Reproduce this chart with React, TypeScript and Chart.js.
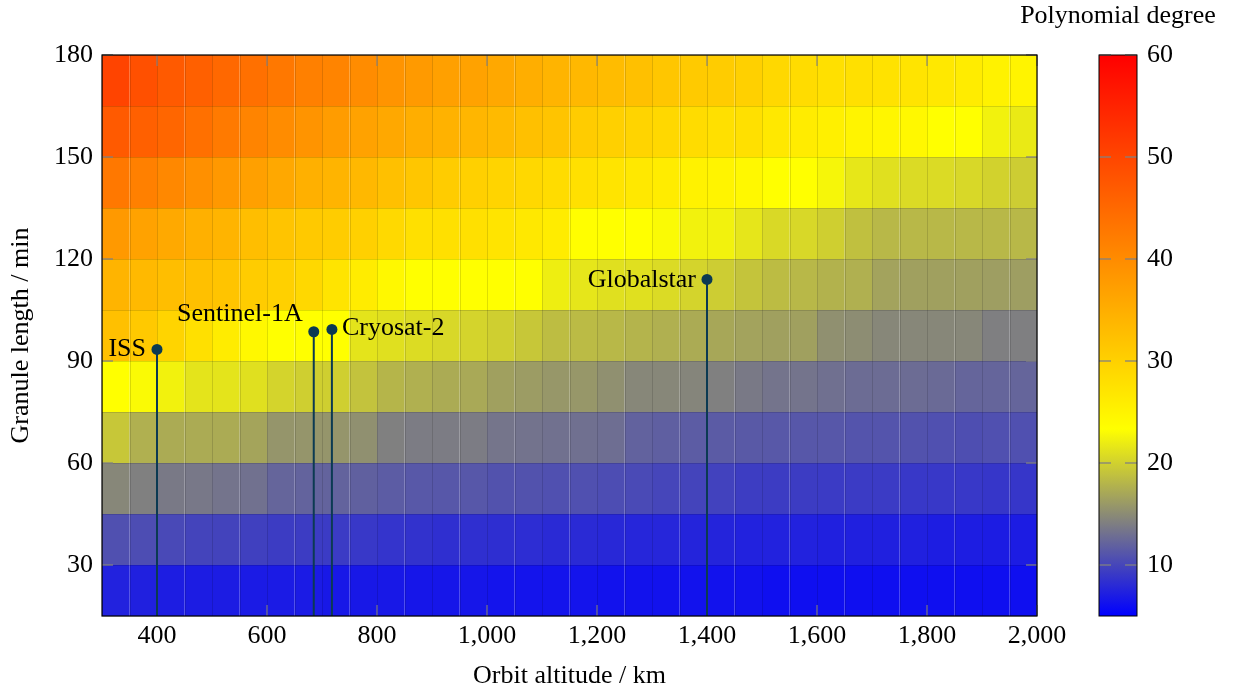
import React, { useEffect, useRef } from "react";
import { Chart, registerables } from "chart.js";

Chart.register(...registerables);

// ---- data ----
const altitudeEdges = [300, 350, 400, 450, 500, 550, 600, 650, 700, 750, 800, 850, 900, 950, 1000, 1050, 1100, 1150, 1200, 1250, 1300, 1350, 1400, 1450, 1500, 1550, 1600, 1650, 1700, 1750, 1800, 1850, 1900, 1950, 2000];
const granuleEdges = [15, 30, 45, 60, 75, 90, 105, 120, 135, 150, 165, 180];

const deg15 = [7.4, 7.3, 7.1, 7.0, 7.0, 6.9, 6.9, 6.9, 6.7, 6.7, 6.7, 6.6, 6.6, 6.6, 6.4, 6.4, 6.4, 6.4, 6.3, 6.3, 6.3, 6.3, 6.3, 6.3, 6.1, 6.1, 6.1, 6.1, 6.1, 6.1, 6.1, 6.1, 6.1, 6.1];
const deg30 = [10.7, 10.5, 10.2, 9.9, 9.8, 9.6, 9.3, 9.3, 9.2, 9.0, 8.7, 8.6, 8.4, 8.4, 8.3, 8.2, 8.0, 8.0, 7.9, 7.7, 7.7, 7.6, 7.6, 7.4, 7.4, 7.4, 7.3, 7.3, 7.3, 7.3, 7.1, 7.1, 7.0, 7.0];
const deg45 = [14.7, 14.2, 13.7, 13.6, 13.3, 13.1, 12.2, 12.1, 12.1, 11.9, 11.6, 11.3, 11.2, 11.2, 10.9, 10.9, 10.7, 10.7, 10.5, 10.3, 10.0, 9.9, 9.7, 9.4, 9.3, 9.3, 9.2, 9.2, 9.2, 9.0, 9.0, 9.0, 8.9, 8.9];
const deg60 = [19.3, 17.6, 17.3, 17.3, 17.3, 16.8, 15.7, 15.7, 15.7, 15.3, 14.2, 13.9, 13.9, 13.9, 13.4, 13.2, 13.1, 13.0, 12.9, 12.0, 11.8, 11.6, 11.5, 11.4, 11.3, 11.2, 11.2, 11.0, 11.0, 10.9, 10.7, 10.6, 10.7, 10.7];
const deg75 = [23.3, 23.0, 22.4, 21.4, 21.4, 21.1, 20.2, 19.9, 19.9, 19.0, 18.0, 17.6, 17.3, 17.1, 16.5, 16.2, 15.8, 15.8, 15.3, 14.7, 14.7, 14.5, 14.2, 13.7, 13.3, 13.3, 13.0, 12.7, 12.7, 12.7, 12.6, 12.2, 12.2, 12.2];
const deg90 = [32.4, 31.2, 29.5, 27.8, 26.1, 24.3, 23.3, 23.3, 23.3, 21.4, 21.1, 20.8, 20.5, 20.2, 19.9, 19.3, 18.6, 18.4, 18.2, 17.9, 17.6, 17.3, 17.0, 16.7, 16.5, 16.5, 15.3, 15.1, 14.7, 14.7, 14.7, 14.7, 14.1, 14.1];
const deg105 = [34.2, 33.5, 32.7, 32.4, 31.8, 30.7, 30.1, 29.0, 27.2, 26.1, 24.3, 23.3, 23.3, 23.3, 23.3, 23.3, 22.1, 21.5, 21.1, 21.1, 20.7, 20.2, 19.7, 19.1, 18.5, 18.2, 17.8, 17.6, 16.7, 16.5, 16.5, 16.5, 16.3, 16.3];
const deg120 = [38.0, 36.8, 35.8, 34.7, 34.1, 32.7, 31.8, 31.2, 30.7, 30.1, 28.8, 27.8, 27.8, 27.8, 27.2, 26.6, 26.1, 23.5, 23.3, 23.3, 23.0, 22.4, 22.4, 21.5, 20.6, 20.5, 19.9, 18.8, 18.2, 18.2, 18.2, 18.2, 18.2, 18.2];
const deg135 = [42.8, 41.7, 40.5, 39.4, 38.2, 37.0, 35.9, 34.7, 34.2, 33.6, 32.4, 31.5, 30.7, 30.1, 29.5, 29.0, 28.4, 27.8, 27.2, 26.6, 26.1, 25.2, 24.9, 24.3, 23.3, 23.3, 22.7, 21.6, 21.1, 20.7, 20.7, 20.5, 20.1, 19.7];
const deg150 = [47.1, 46.3, 45.4, 44.0, 42.5, 41.1, 39.9, 38.8, 37.6, 36.8, 35.9, 35.0, 34.4, 33.9, 33.3, 32.4, 31.8, 30.7, 30.1, 29.5, 29.0, 28.4, 27.8, 27.8, 26.6, 26.1, 25.5, 24.9, 24.6, 24.3, 23.3, 23.3, 22.4, 21.8];
const deg165 = [50.3, 48.5, 47.1, 46.3, 45.1, 44.0, 42.8, 41.7, 41.1, 39.9, 38.8, 37.9, 37.0, 36.8, 35.9, 35.0, 34.2, 33.6, 33.0, 32.4, 31.6, 31.0, 30.7, 30.1, 29.0, 28.4, 27.8, 27.8, 27.5, 27.2, 26.6, 26.1, 25.2, 24.9];

const degreeRows = [deg15, deg30, deg45, deg60, deg75, deg90, deg105, deg120, deg135, deg150, deg165];

const satelliteNames = ["ISS", "Sentinel-1A", "Cryosat-2", "Globalstar"];
const satelliteAltitudes = [400, 685, 718, 1400];
const satellitePeriods = [93.4, 98.6, 99.3, 114.0];

const xTickValues = [400, 600, 800, 1000, 1200, 1400, 1600, 1800, 2000];
const yTickValues = [30, 60, 90, 120, 150, 180];
const cbTickValues = [10, 20, 30, 40, 50, 60];
const cbMin = 5;
const cbMax = 60;

// ---- style ----
const FONT_FAMILY = "'Liberation Serif', 'Times New Roman', serif";
const FONT_SIZE = 26;
const STEM_COLOR = "#0b3a52";
const TICK_COLOR = "rgba(128,128,128,0.85)";

// label placement: [dx, dy, align]
const labelPlacement: Record<string, [number, number, CanvasTextAlign]> = {
  ISS: [-11, 0, "right"],
  "Sentinel-1A": [-11, -18, "right"],
  "Cryosat-2": [10, -1, "left"],
  Globalstar: [-11, 1, "right"],
};

const cmapStops: [number, number[]][] = [
  [5, [0, 0, 255]],
  [14.1667, [128, 128, 128]],
  [23.3333, [255, 255, 0]],
  [41.6667, [255, 128, 0]],
  [60, [255, 0, 0]],
];

function cmap(v: number): string {
  const c = Math.max(cmapStops[0][0], Math.min(cmapStops[cmapStops.length - 1][0], v));
  for (let i = 0; i < cmapStops.length - 1; i++) {
    const [a, ca] = cmapStops[i];
    const [b, cb] = cmapStops[i + 1];
    if (c >= a && c <= b) {
      const t = (c - a) / (b - a);
      const r = Math.round(ca[0] + (cb[0] - ca[0]) * t);
      const g = Math.round(ca[1] + (cb[1] - ca[1]) * t);
      const bl = Math.round(ca[2] + (cb[2] - ca[2]) * t);
      return `rgb(${r},${g},${bl})`;
    }
  }
  return "rgb(255,0,0)";
}

const heatmapPlugin = {
  id: "heatmap",
  beforeDatasetsDraw(chart: any) {
    const { ctx, scales } = chart;
    const x = scales.x;
    const y = scales.y;
    ctx.save();
    degreeRows.forEach((row, j) => {
      const yb = y.getPixelForValue(granuleEdges[j]);
      const yt = y.getPixelForValue(granuleEdges[j + 1]);
      row.forEach((v, i) => {
        const xl = x.getPixelForValue(altitudeEdges[i]);
        const xr = x.getPixelForValue(altitudeEdges[i + 1]);
        ctx.fillStyle = cmap(v);
        ctx.fillRect(xl, yt, xr - xl, yb - yt);
      });
    });
    // cell edges
    ctx.strokeStyle = "rgba(0,0,0,0.13)";
    ctx.lineWidth = 1;
    const top = y.getPixelForValue(granuleEdges[granuleEdges.length - 1]);
    const bottom = y.getPixelForValue(granuleEdges[0]);
    const left = x.getPixelForValue(altitudeEdges[0]);
    const right = x.getPixelForValue(altitudeEdges[altitudeEdges.length - 1]);
    ctx.beginPath();
    altitudeEdges.forEach((a) => {
      const px = Math.round(x.getPixelForValue(a)) + 0.5;
      ctx.moveTo(px, top);
      ctx.lineTo(px, bottom);
    });
    granuleEdges.forEach((g) => {
      const py = Math.round(y.getPixelForValue(g)) + 0.5;
      ctx.moveTo(left, py);
      ctx.lineTo(right, py);
    });
    ctx.stroke();

    // inside ticks
    ctx.strokeStyle = TICK_COLOR;
    ctx.lineWidth = 1.3;
    const tl = 11;
    ctx.beginPath();
    xTickValues.forEach((v) => {
      const px = x.getPixelForValue(v);
      ctx.moveTo(px, bottom);
      ctx.lineTo(px, bottom - tl);
      ctx.moveTo(px, top);
      ctx.lineTo(px, top + tl);
    });
    yTickValues.forEach((v) => {
      const py = y.getPixelForValue(v);
      ctx.moveTo(left, py);
      ctx.lineTo(left + tl, py);
      ctx.moveTo(right, py);
      ctx.lineTo(right - tl, py);
    });
    ctx.stroke();

    // colorbar
    const cbs = scales.cb;
    const ca = chart.chartArea;
    const bx0 = ca.right + 62;
    const bx1 = ca.right + 100;
    const by0 = cbs.getPixelForValue(cbMax);
    const by1 = cbs.getPixelForValue(cbMin);
    const grad = ctx.createLinearGradient(0, by1, 0, by0);
    cmapStops.forEach(([v]) => {
      grad.addColorStop((v - cbMin) / (cbMax - cbMin), cmap(v));
    });
    ctx.fillStyle = grad;
    ctx.fillRect(bx0, by0, bx1 - bx0, by1 - by0);
    ctx.strokeStyle = TICK_COLOR;
    ctx.lineWidth = 1.3;
    ctx.beginPath();
    cbTickValues.forEach((v) => {
      const py = cbs.getPixelForValue(v);
      ctx.moveTo(bx0, py);
      ctx.lineTo(bx0 + 12, py);
      ctx.moveTo(bx1, py);
      ctx.lineTo(bx1 - 12, py);
    });
    ctx.stroke();
    ctx.strokeStyle = "#000";
    ctx.lineWidth = 1;
    ctx.strokeRect(bx0, by0, bx1 - bx0, by1 - by0);

    ctx.fillStyle = "#000";
    ctx.font = `${FONT_SIZE}px ${FONT_FAMILY}`;
    ctx.textAlign = "left";
    ctx.textBaseline = "middle";
    cbTickValues.forEach((v) => {
      ctx.fillText(String(v), bx1 + 10, cbs.getPixelForValue(v));
    });
    ctx.textAlign = "center";
    ctx.fillText("Polynomial degree", (bx0 + bx1) / 2, 16);
    ctx.restore();
  },
  afterDatasetsDraw(chart: any) {
    const { ctx, chartArea } = chart;
    ctx.save();
    ctx.strokeStyle = "#000";
    ctx.lineWidth = 1.2;
    ctx.strokeRect(chartArea.left, chartArea.top, chartArea.right - chartArea.left, chartArea.bottom - chartArea.top);
    ctx.fillStyle = "#000";
    ctx.font = `${FONT_SIZE}px ${FONT_FAMILY}`;
    ctx.textBaseline = "middle";
    satelliteNames.forEach((name, i) => {
      const meta = chart.getDatasetMeta(i);
      const pt = meta.data[1];
      if (!pt) return;
      const [dx, dy, align] = labelPlacement[name];
      ctx.textAlign = align;
      ctx.fillText(name, pt.x + dx, pt.y + dy);
    });
    ctx.restore();
  },
};

export default function App() {
  const canvasRef = useRef<HTMLCanvasElement | null>(null);

  useEffect(() => {
    if (!canvasRef.current) return;
    const font = { family: FONT_FAMILY, size: FONT_SIZE };
    const chart = new Chart(canvasRef.current, {
      type: "scatter",
      data: {
        datasets: satelliteNames.map((name, i) => ({
          label: name,
          data: [
            { x: satelliteAltitudes[i], y: granuleEdges[0] },
            { x: satelliteAltitudes[i], y: satellitePeriods[i] },
          ],
          showLine: true,
          borderColor: STEM_COLOR,
          backgroundColor: STEM_COLOR,
          borderWidth: 2,
          pointRadius: [0, 5.5],
          pointHoverRadius: [0, 5.5],
          pointBorderWidth: 0,
        })),
      },
      options: {
        animation: false,
        responsive: true,
        maintainAspectRatio: false,
        events: [],
        layout: { padding: { top: 55, left: 0, right: 0, bottom: 0 } },
        plugins: { legend: { display: false }, tooltip: { enabled: false } },
        scales: {
          x: {
            type: "linear",
            min: altitudeEdges[0],
            max: altitudeEdges[altitudeEdges.length - 1],
            afterBuildTicks: (s: any) => {
              s.ticks = xTickValues.map((v) => ({ value: v }));
            },
            afterFit: (s: any) => {
              s.height = 77;
            },
            grid: { display: false, drawTicks: false },
            border: { display: false },
            ticks: {
              padding: 5,
              color: "#000",
              font,
              maxRotation: 0,
              autoSkip: false,
              callback: (v: any) => Number(v).toLocaleString("en-US"),
            },
            title: {
              display: true,
              text: "Orbit altitude / km",
              color: "#000",
              font,
              padding: { top: 0, bottom: 1 },
            },
          },
          y: {
            type: "linear",
            position: "left",
            min: granuleEdges[0],
            max: granuleEdges[granuleEdges.length - 1],
            afterBuildTicks: (s: any) => {
              s.ticks = yTickValues.map((v) => ({ value: v }));
            },
            afterFit: (s: any) => {
              s.width = 102;
            },
            grid: { display: false, drawTicks: false },
            border: { display: false },
            ticks: { padding: 9, color: "#000", font, autoSkip: false },
            title: {
              display: true,
              text: "Granule length / min",
              color: "#000",
              font,
              padding: { top: 6, bottom: 0 },
            },
          },
          cb: {
            type: "linear",
            position: "right",
            min: cbMin,
            max: cbMax,
            afterBuildTicks: (s: any) => {
              s.ticks = cbTickValues.map((v) => ({ value: v }));
            },
            afterFit: (s: any) => {
              s.width = 198;
            },
            grid: { display: false, drawTicks: false },
            border: { display: false },
            ticks: { display: false, padding: 0 },
          },
        },
      },
      plugins: [heatmapPlugin],
    } as any);
    return () => chart.destroy();
  }, []);

  return (
    <div style={{ position: "absolute", left: 0, top: 0, width: 1235, height: 693 }}>
      <canvas ref={canvasRef} />
    </div>
  );
}
